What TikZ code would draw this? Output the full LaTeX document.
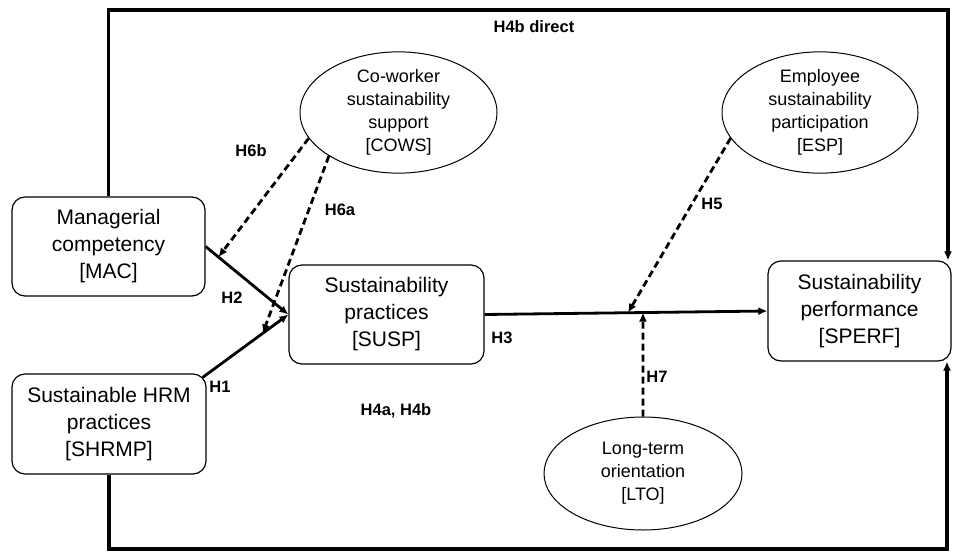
\documentclass[tikz,border=0pt]{standalone}
\usepackage{fontspec}
\setmainfont{Liberation Sans}
\usetikzlibrary{arrows.meta,shapes.geometric}
\begin{document}
\begin{tikzpicture}[x=1pt,y=-1pt,
  boxnode/.style={draw, rounded corners=13pt, line width=1.2pt, inner sep=0pt, align=center, font=\fontsize{21}{27}\selectfont},
  ellnode/.style={draw, ellipse, line width=1pt, inner sep=0pt, align=center, font=\fontsize{18}{23}\selectfont},
  conn/.style={line width=2.8pt, -{Latex[length=9pt,width=8pt]}},
  dconn/.style={line width=2.8pt, dash pattern=on 7pt off 4pt, -{Latex[length=9pt,width=8pt]}},
  frameline/.style={line width=3.2pt, line join=miter},
  hlabel/.style={font=\bfseries\fontsize{16.5}{18}\selectfont, inner sep=0pt, anchor=base}
]
\useasboundingbox (0,0) rectangle (953,552);

% boxes
\node[boxnode, minimum width=193pt, minimum height=99pt] (MAC) at (108.5,246.5) {Managerial\\competency\\{[MAC]}};
\node[boxnode, minimum width=194pt, minimum height=100pt] (SHRMP) at (109,424) {Sustainable HRM\\practices\\{[SHRMP]}};
\node[boxnode, minimum width=195pt, minimum height=99pt] (SUSP) at (386.5,314.5) {Sustainability\\practices\\{[SUSP]}};
\node[boxnode, minimum width=183pt, minimum height=100pt] (SPERF) at (859.5,311) {Sustainability\\performance\\{[SPERF]}};

% ellipses
\node[ellnode, minimum width=197pt, minimum height=115pt] (COWS) at (398.5,112.5) {Co-worker\\sustainability\\support\\{[COWS]}};
\node[ellnode, minimum width=196pt, minimum height=115pt] (ESP) at (820,112.5) {Employee\\sustainability\\participation\\{[ESP]}};
\node[ellnode, minimum width=198pt, minimum height=113pt] (LTO) at (643,473.5) {Long-term\\orientation\\{[LTO]}};

% frame
\coordinate (TL) at (108,10);
\coordinate (TR) at (948,10);
\coordinate (BL) at (108,549);
\coordinate (BR) at (947,549);
\draw[frameline, -{Latex[length=9pt,width=8pt]}] (MAC.north) -- (MAC.north |- TL) -- (TR) -- (SPERF.north -| TR);
\draw[frameline, -{Latex[length=9pt,width=8pt]}] (SHRMP.south) -- (SHRMP.south |- BL) -- (BR) -- (SPERF.south -| BR);

% main paths
\draw[conn] (MAC.east) -- coordinate[pos=0.155] (p6b) (SUSP.west);
\draw[conn] ([xshift=-4pt,yshift=-4pt]SHRMP.north east) -- coordinate[pos=0.7] (p6a) (SUSP.west);
\draw[conn] (SUSP.east) -- coordinate[pos=0.507] (p5) coordinate[pos=0.56] (p7) (SPERF.west);

% moderating paths
\draw[dconn] (COWS.196) -- (p6b);
\draw[dconn] (COWS.212) -- (p6a);
\draw[dconn] (ESP.196) -- (p5);
\draw[dconn] (LTO.north) -- (p7);

% labels
\node[hlabel] (lH4bd) at (534,32) {H4b direct};
\node[hlabel] (lH6b) at (251,156) {H6b};
\node[hlabel] (lH6a) at (340,215) {H6a};
\node[hlabel] (lH2) at (232,303) {H2};
\node[hlabel] (lH1) at (220,392) {H1};
\node[hlabel] (lH3) at (502,343) {H3};
\node[hlabel] (lH4) at (396,415) {H4a, H4b};
\node[hlabel] (lH5) at (712,209) {H5};
\node[hlabel] (lH7) at (657,382) {H7};
\end{tikzpicture}
\end{document}
